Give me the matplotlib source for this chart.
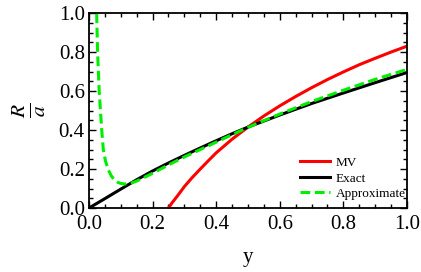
import numpy as np
import matplotlib
matplotlib.use("Agg")
import matplotlib.pyplot as plt
from matplotlib.ticker import MultipleLocator

plt.rcParams['font.family'] = ['Liberation Serif', 'DejaVu Serif']
plt.rcParams['mathtext.fontset'] = 'stix'

# values
y_mv = [0.25, 0.26, 0.27, 0.28, 0.3, 0.325, 0.35, 0.375, 0.4, 0.45, 0.5, 0.55, 0.6, 0.65, 0.7, 0.75, 0.8, 0.85, 0.9, 0.95, 1.0]
r_mv = [0.0, 0.024, 0.045, 0.066, 0.11, 0.157, 0.20, 0.242, 0.283, 0.353, 0.415, 0.472, 0.524, 0.572, 0.617, 0.659, 0.698, 0.735, 0.768, 0.800, 0.830]

y_exact = [0.0, 0.05, 0.1, 0.15, 0.2, 0.25, 0.3, 0.35, 0.4, 0.45, 0.5, 0.6, 0.7, 0.8, 0.9, 1.0]
r_exact = [0.0, 0.048, 0.097, 0.145, 0.19, 0.231, 0.27, 0.308, 0.345, 0.381, 0.415, 0.477, 0.536, 0.590, 0.643, 0.695]

y_appr = [0.021, 0.024, 0.027, 0.032, 0.036, 0.04, 0.045, 0.052, 0.061, 0.07, 0.08, 0.09, 0.10, 0.113, 0.13, 0.15, 0.2, 0.25, 0.3, 0.35, 0.4, 0.45, 0.5, 0.6, 0.7, 0.8, 0.9, 1.0]
r_appr = [1.1, 1.0, 0.8, 0.6, 0.5, 0.4, 0.3, 0.24, 0.195, 0.165, 0.144, 0.132, 0.126, 0.123, 0.126, 0.138, 0.178, 0.221, 0.262, 0.300, 0.338, 0.376, 0.414, 0.482, 0.546, 0.604, 0.660, 0.711]

fig = plt.figure(figsize=(4.21, 2.72), dpi=100)
ax = fig.add_axes([0.2114, 0.2353, 0.7553, 0.7167])

ax.plot(y_mv, r_mv, color='#ff0000', lw=2.2, label='MV')
ax.plot(y_exact, r_exact, color='black', lw=2.2, label='Exact')
ax.plot(y_appr, r_appr, color='#00ee00', lw=2.2, dashes=(3.2, 1.5), label='Approximate')

ax.set_xlim(0, 1)
ax.set_ylim(0, 1)
ax.xaxis.set_major_locator(MultipleLocator(0.2))
ax.xaxis.set_minor_locator(MultipleLocator(0.05))
ax.yaxis.set_major_locator(MultipleLocator(0.2))
ax.yaxis.set_minor_locator(MultipleLocator(0.05))
ax.tick_params(which='both', direction='in', top=True, right=True, width=1.0, labelsize=15)
ax.tick_params(axis='x', pad=5)
ax.tick_params(axis='y', pad=3)
ax.tick_params(which='major', length=5)
ax.tick_params(which='minor', length=3)
for s in ax.spines.values():
    s.set_linewidth(1.3)

ax.set_xlabel('y', fontsize=15, labelpad=10)
ax.set_ylabel(r'$\frac{R}{a}$', fontsize=22, labelpad=8)

ax.legend(loc='lower right', bbox_to_anchor=(1.02, 0.0), frameon=False, fontsize=9.5,
          handlelength=2.3, handletextpad=0.4, labelspacing=0.25, borderaxespad=0.2)

fig.savefig('out.png', dpi=100)
